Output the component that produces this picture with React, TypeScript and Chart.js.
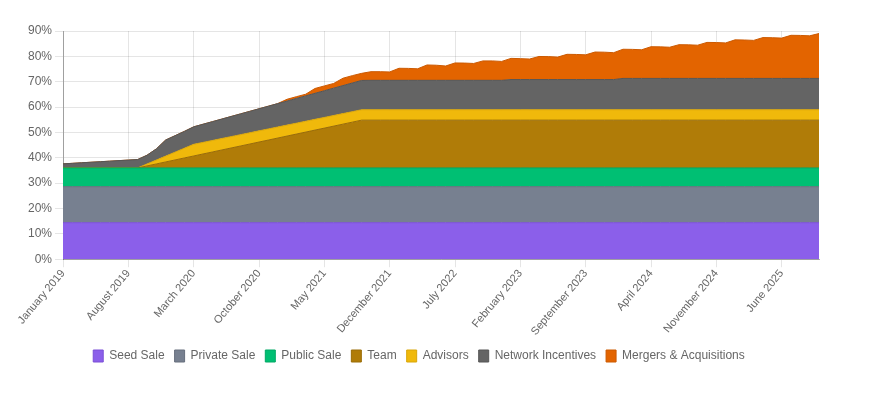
import React, { useEffect, useRef } from "react";
import { Chart, registerables } from "chart.js";

Chart.register(...registerables);

const monthLabels = [
  "January 2019", "February 2019", "March 2019", "April 2019", "May 2019", "June 2019", "July 2019", "August 2019", "September 2019", "October 2019", "November 2019", "December 2019",
  "January 2020", "February 2020", "March 2020", "April 2020", "May 2020", "June 2020", "July 2020", "August 2020", "September 2020", "October 2020", "November 2020", "December 2020",
  "January 2021", "February 2021", "March 2021", "April 2021", "May 2021", "June 2021", "July 2021", "August 2021", "September 2021", "October 2021", "November 2021", "December 2021",
  "January 2022", "February 2022", "March 2022", "April 2022", "May 2022", "June 2022", "July 2022", "August 2022", "September 2022", "October 2022", "November 2022", "December 2022",
  "January 2023", "February 2023", "March 2023", "April 2023", "May 2023", "June 2023", "July 2023", "August 2023", "September 2023", "October 2023", "November 2023", "December 2023",
  "January 2024", "February 2024", "March 2024", "April 2024", "May 2024", "June 2024", "July 2024", "August 2024", "September 2024", "October 2024", "November 2024", "December 2024",
  "January 2025", "February 2025", "March 2025", "April 2025", "May 2025", "June 2025", "July 2025", "August 2025", "September 2025", "October 2025",
];

const seedSale = [
  14.4, 14.4, 14.4, 14.4, 14.4, 14.4, 14.4, 14.4, 14.4, 14.4, 14.4, 14.4,
  14.4, 14.4, 14.4, 14.4, 14.4, 14.4, 14.4, 14.4, 14.4, 14.4, 14.4, 14.4,
  14.4, 14.4, 14.4, 14.4, 14.4, 14.4, 14.4, 14.4, 14.4, 14.4, 14.4, 14.4,
  14.4, 14.4, 14.4, 14.4, 14.4, 14.4, 14.4, 14.4, 14.4, 14.4, 14.4, 14.4,
  14.4, 14.4, 14.4, 14.4, 14.4, 14.4, 14.4, 14.4, 14.4, 14.4, 14.4, 14.4,
  14.4, 14.4, 14.4, 14.4, 14.4, 14.4, 14.4, 14.4, 14.4, 14.4, 14.4, 14.4,
  14.4, 14.4, 14.4, 14.4, 14.4, 14.4, 14.4, 14.4, 14.4, 14.4,
];

const privateSale = [
  14.2, 14.2, 14.2, 14.2, 14.2, 14.2, 14.2, 14.2, 14.2, 14.2, 14.2, 14.2,
  14.2, 14.2, 14.2, 14.2, 14.2, 14.2, 14.2, 14.2, 14.2, 14.2, 14.2, 14.2,
  14.2, 14.2, 14.2, 14.2, 14.2, 14.2, 14.2, 14.2, 14.2, 14.2, 14.2, 14.2,
  14.2, 14.2, 14.2, 14.2, 14.2, 14.2, 14.2, 14.2, 14.2, 14.2, 14.2, 14.2,
  14.2, 14.2, 14.2, 14.2, 14.2, 14.2, 14.2, 14.2, 14.2, 14.2, 14.2, 14.2,
  14.2, 14.2, 14.2, 14.2, 14.2, 14.2, 14.2, 14.2, 14.2, 14.2, 14.2, 14.2,
  14.2, 14.2, 14.2, 14.2, 14.2, 14.2, 14.2, 14.2, 14.2, 14.2,
];

const publicSale = [
  7.4, 7.4, 7.4, 7.4, 7.4, 7.4, 7.4, 7.4, 7.4, 7.4, 7.4, 7.4,
  7.4, 7.4, 7.4, 7.4, 7.4, 7.4, 7.4, 7.4, 7.4, 7.4, 7.4, 7.4,
  7.4, 7.4, 7.4, 7.4, 7.4, 7.4, 7.4, 7.4, 7.4, 7.4, 7.4, 7.4,
  7.4, 7.4, 7.4, 7.4, 7.4, 7.4, 7.4, 7.4, 7.4, 7.4, 7.4, 7.4,
  7.4, 7.4, 7.4, 7.4, 7.4, 7.4, 7.4, 7.4, 7.4, 7.4, 7.4, 7.4,
  7.4, 7.4, 7.4, 7.4, 7.4, 7.4, 7.4, 7.4, 7.4, 7.4, 7.4, 7.4,
  7.4, 7.4, 7.4, 7.4, 7.4, 7.4, 7.4, 7.4, 7.4, 7.4,
];

const team = [
  0, 0, 0, 0, 0, 0, 0, 0, 0, 0.79, 1.57, 2.36,
  3.14, 3.93, 4.71, 5.5, 6.28, 7.07, 7.85, 8.64, 9.42, 10.21, 10.99, 11.78,
  12.56, 13.35, 14.13, 14.92, 15.7, 16.49, 17.27, 18.06, 18.85, 18.85, 18.85, 18.85,
  18.85, 18.85, 18.85, 18.85, 18.85, 18.85, 18.85, 18.85, 18.85, 18.85, 18.85, 18.85,
  18.85, 18.85, 18.85, 18.85, 18.85, 18.85, 18.85, 18.85, 18.85, 18.85, 18.85, 18.85,
  18.85, 18.85, 18.85, 18.85, 18.85, 18.85, 18.85, 18.85, 18.85, 18.85, 18.85, 18.85,
  18.85, 18.85, 18.85, 18.85, 18.85, 18.85, 18.85, 18.85, 18.85, 18.85,
];

const advisors = [
  0, 0, 0, 0, 0, 0, 0, 0, 0, 0.77, 1.53, 2.3,
  3.07, 3.83, 4.6, 4.57, 4.54, 4.52, 4.49, 4.46, 4.43, 4.41, 4.38, 4.35,
  4.32, 4.29, 4.27, 4.24, 4.21, 4.18, 4.16, 4.13, 4.1, 4.1, 4.1, 4.1,
  4.1, 4.1, 4.1, 4.1, 4.1, 4.1, 4.1, 4.1, 4.1, 4.1, 4.1, 4.1,
  4.1, 4.1, 4.1, 4.1, 4.1, 4.1, 4.1, 4.1, 4.1, 4.1, 4.1, 4.1,
  4.1, 4.1, 4.1, 4.1, 4.1, 4.1, 4.1, 4.1, 4.1, 4.1, 4.1, 4.1,
  4.1, 4.1, 4.1, 4.1, 4.1, 4.1, 4.1, 4.1, 4.1, 4.1,
];

const networkIncentives = [
  1.6, 1.81, 2.03, 2.24, 2.45, 2.66, 2.88, 3.09, 3.3, 3.44, 4.4, 6.34,
  6.49, 6.64, 6.89, 7.15, 7.41, 7.66, 7.93, 8.19, 8.45, 8.7, 8.97, 9.23,
  9.49, 9.75, 10.01, 10.27, 10.53, 10.79, 11.05, 11.31, 11.55, 11.6, 11.6, 11.6,
  11.6, 11.6, 11.6, 11.6, 11.6, 11.6, 11.6, 11.6, 11.6, 11.6, 11.6, 11.6,
  11.9, 11.9, 11.9, 11.9, 11.9, 11.9, 11.9, 11.9, 11.9, 11.9, 11.9, 11.9,
  12.35, 12.35, 12.35, 12.35, 12.35, 12.35, 12.35, 12.35, 12.35, 12.35, 12.35, 12.35,
  12.35, 12.35, 12.35, 12.35, 12.35, 12.35, 12.35, 12.35, 12.35, 12.35,
];

const mergersAcquisitions = [
  0, 0, 0, 0, 0, 0, 0, 0, 0, 0, 0, 0,
  0, 0, 0, 0, 0, 0, 0, 0, 0, 0, 0, 0,
  0.7, 0.7, 0.65, 1.9, 1.9, 1.85, 2.9, 2.9, 2.8, 3.4, 3.4, 3.3,
  4.75, 4.7, 4.55, 6.05, 5.95, 5.65, 6.85, 6.8, 6.65, 7.65, 7.65, 7.45,
  8.35, 8.25, 8.1, 9.1, 9.05, 8.85, 9.95, 9.9, 9.75, 10.85, 10.8, 10.6,
  11.5, 11.45, 11.3, 12.5, 12.45, 12.3, 13.3, 13.25, 13.1, 14.2, 14.15, 14.0,
  15.2, 15.15, 15.0, 16.1, 16.05, 15.9, 17.0, 16.95, 16.8, 17.7,
];

const seriesNames = ["Seed Sale", "Private Sale", "Public Sale", "Team", "Advisors", "Network Incentives", "Mergers & Acquisitions"];
const seriesData = [seedSale, privateSale, publicSale, team, advisors, networkIncentives, mergersAcquisitions];
const fillColors = ["#8b5fea", "#778090", "#00bf73", "#b07c08", "#f0b90b", "#646464", "#e36400"];
const lineColors = ["#7a4fd6", "#676f7d", "#00a864", "#9a6c06", "#d9a609", "#555555", "#cc5a00"];

const yTicks = [0, 10, 20, 30, 40, 50, 60, 70, 80, 90];

export default function App() {
  const ref = useRef<HTMLCanvasElement>(null);
  useEffect(() => {
    if (!ref.current) return;
    Chart.defaults.font.family = "'Helvetica Neue', Helvetica, Arial, sans-serif";
    Chart.defaults.font.size = 12;
    Chart.defaults.color = "#666";
    const chart = new Chart(ref.current, {
      type: "line",
      data: {
        labels: monthLabels,
        datasets: seriesNames.map((name, i) => ({
          label: name,
          data: seriesData[i],
          backgroundColor: fillColors[i],
          borderColor: lineColors[i],
          borderWidth: 1,
          fill: i === 0 ? "origin" : "-1",
          pointRadius: 0,
          pointHoverRadius: 0,
          tension: 0,
        })),
      },
      options: {
        animation: false,
        responsive: true,
        maintainAspectRatio: false,
        layout: { padding: { top: 23, right: 42, left: 11, bottom: 0 } },
        plugins: {
          legend: {
            position: "bottom",
            labels: { boxWidth: 10, boxHeight: 12, padding: 10, color: "#666", font: { size: 12 } },
          },
          tooltip: { enabled: false },
        },
        scales: {
          x: {
            grid: { color: "rgba(0,0,0,0.1)", tickLength: 8 },
            border: { color: "rgba(0,0,0,0.3)" },
            afterFit: (scale: any) => {
              scale.height += 2;
            },
            ticks: {
              autoSkip: false,
              maxRotation: 50,
              minRotation: 50,
              padding: 0,
              color: "#666",
              font: { size: 11 },
              callback: (_v: any, idx: number) => (idx % 7 === 0 ? monthLabels[idx] : null),
            },
          },
          y: {
            stacked: true,
            min: yTicks[0],
            max: yTicks[yTicks.length - 1],
            grid: { color: "rgba(0,0,0,0.1)", tickLength: 8 },
            border: { color: "rgba(0,0,0,0.3)" },
            afterFit: (scale: any) => {
              scale.width = 44;
            },
            ticks: {
              stepSize: 10,
              color: "#666",
              callback: (v: any) => v + "%",
            },
          },
        },
      },
    });
    return () => chart.destroy();
  }, []);
  return (
    <div style={{ position: "relative", width: "853px", height: "364px" }}>
      <canvas ref={ref} />
    </div>
  );
}
